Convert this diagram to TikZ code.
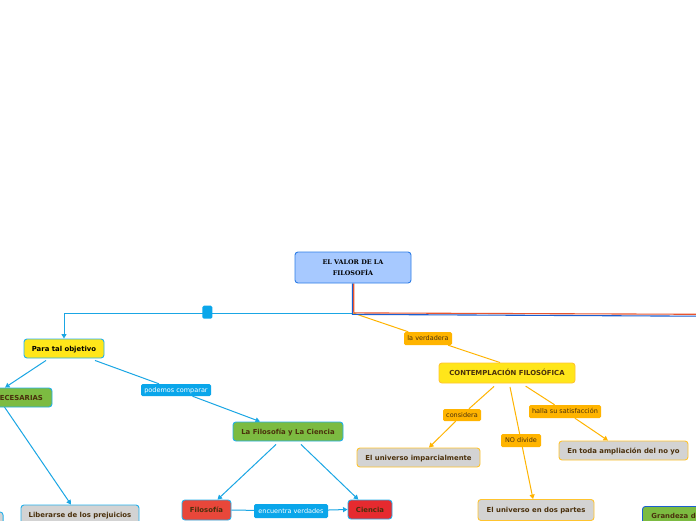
\documentclass[tikz,border=0pt]{standalone}
\usepackage{fontspec}
\setmainfont{DejaVu Sans}
\newfontfamily\rootfont{DejaVu Serif}
\usetikzlibrary{arrows.meta,calc,backgrounds}
\definecolor{linecyan}{HTML}{1AA6E4}
\definecolor{bordcyan}{HTML}{22B0EC}
\definecolor{labcyan}{HTML}{0AA6EA}
\definecolor{lineor}{HTML}{FFB400}
\definecolor{bordor}{HTML}{FFC42E}
\definecolor{labor}{HTML}{FFB400}
\definecolor{txtbrown}{HTML}{4A300C}
\definecolor{fillyel}{HTML}{FFE61A}
\definecolor{fillgreen}{HTML}{7CBB41}
\definecolor{fillgray}{HTML}{D3D3D3}
\definecolor{fillred}{HTML}{E8473A}
\definecolor{fillred2}{HTML}{E62A2F}
\definecolor{rootfill}{HTML}{A7C9FF}
\definecolor{rootbord}{HTML}{2E7DE6}
\definecolor{linered}{HTML}{E8552F}
\definecolor{lineblue}{HTML}{1A5FD0}
\begin{document}
\begin{tikzpicture}[x=1pt,y=-1pt,
  box/.style={draw, rounded corners=3pt, line width=0.9pt, inner sep=0pt,
    font=\fontsize{6.9}{8}\selectfont\bfseries, text=txtbrown,
    text height=5pt, text depth=0pt},
  cbox/.style={box, draw=bordcyan},
  obox/.style={box, draw=bordor},
  lab/.style={rounded corners=1.5pt, inner sep=0pt, font=\fontsize{6.5}{7}\selectfont,
    text height=4.7pt, text depth=0pt},
  cyanlab/.style={lab, fill=labcyan, text=white},
  orlab/.style={lab, fill=labor, text=txtbrown},
  cl/.style={draw=linecyan, line width=1pt},
  ol/.style={draw=lineor, line width=1pt},
  arr/.style={-{Triangle[length=4.5pt,width=5pt]}}
]
\useasboundingbox (0,0) rectangle (696,520);

% root
\node[draw=rootbord, fill=rootfill, rounded corners=3pt, line width=0.9pt,
  minimum width=116pt, minimum height=31pt, inner sep=0pt, align=center,
  font=\rootfont\fontsize{6.4}{10.5}\selectfont\bfseries] (root) at (353,267.5)
  {EL VALOR DE LA\\FILOSOFÍA};

% cyan branch
\node[cbox, fill=fillyel, text=black, minimum width=80pt, minimum height=19pt] (para) at (64,348.5) {Para tal objetivo};
\node[cbox, fill=fillgreen, minimum width=67pt, minimum height=19pt] (nec) at (18.5,397.5) {NECESARIAS};
\node[cyanlab, minimum width=70pt, minimum height=12pt] (podemos) at (176,390) {podemos comparar};
\node[cbox, fill=fillgreen, minimum width=110pt, minimum height=19pt] (lafc) at (288,431.5) {La Filosofía y La Ciencia};
\node[cbox, fill=fillred, minimum width=49pt, minimum height=20pt] (filo) at (206.5,510) {Filosofía};
\node[cbox, fill=fillred2, minimum width=44pt, minimum height=19pt] (ciencia) at (370,509.5) {Ciencia};
\node[cyanlab, minimum width=74pt, minimum height=14pt] (encuentra) at (291,511) {encuentra verdades};
\node[cbox, fill=fillgray, minimum width=118pt, minimum height=19pt] (lib) at (80,514.5) {Liberarse de los prejuicios};
\node[cbox, fill=fillgray, minimum width=40pt, minimum height=19pt, anchor=north east] (hidden) at (3.5,511.5) {};
\node[fill=labcyan, rounded corners=1.5pt, minimum width=10pt, minimum height=13pt, inner sep=0pt] (sq) at (207.3,312.2) {};

% orange branch
\node[orlab, minimum width=48pt, minimum height=13pt] (verd) at (428,338.5) {la verdadera};
\node[obox, fill=fillyel, minimum width=136pt, minimum height=20pt] (cont) at (507,373) {CONTEMPLACIÓN FILOSÓFICA};
\node[orlab, minimum width=38pt, minimum height=12pt] (cons) at (462,415) {considera};
\node[orlab, minimum width=72pt, minimum height=13pt] (halla) at (565,411.5) {halla su satisfacción};
\node[orlab, minimum width=40pt, minimum height=13pt] (nodiv) at (521,440.5) {NO divide};
\node[obox, fill=fillgray, minimum width=123pt, minimum height=19pt] (imp) at (418.5,457.5) {El universo imparcialmente};
\node[obox, fill=fillgray, minimum width=129pt, minimum height=19pt] (ampl) at (623.5,450.5) {En toda ampliación del no yo};
\node[obox, fill=fillgray, minimum width=116pt, minimum height=21pt] (dos) at (536,510) {El universo en dos partes};

% blue branch (cut)
\node[box, draw=lineblue, fill=fillgreen, anchor=north west, minimum height=19pt,
  inner xsep=9pt] (grand) at (642,506) {Grandeza de};

\coordinate (junc) at (353,313);
\coordinate (rj) at (353.8,312.9);
\coordinate (bj) at (352.4,314.4);
\coordinate (rend) at (700,314.3);
\coordinate (bend) at (700,316.2);

\begin{pgfonlayer}{background}
\fill[white] (0,0) rectangle (696,520);
% cyan connectors
\draw[cl, arr] (junc) -- (para.north |- junc) -- (para.north);
\draw[cl, arr] ($(para.south)+(-18,2)$) -- ($(nec.north)+(-13.5,0)$);
\draw[cl, arr] ($(para.south)+(31,2)$) -- (podemos) -- ($(lafc.north)+(-28,0)$);
\draw[cl, arr] ($(nec.center)+(-20.5,0)$) -- ($(lib.north)+(-9,0)$);
\draw[cl, arr] ($(lafc.south)+(-12,3)$) -- ($(filo.north)+(11,0)$);
\draw[cl, arr] ($(lafc.south)+(13,3)$) -- ($(ciencia.north)+(-11.7,0)$);
\draw[cl, arr] (filo.east) -- (encuentra) -- (ciencia.west);
% orange connectors
\draw[ol] (junc) -- (verd) -- ($(cont.north)+(-7,0)$);
\draw[ol, arr] ($(cont.south)+(-13,3)$) -- (cons) -- ($(imp.north)+(10.5,0)$);
\draw[ol, arr] ($(cont.south)+(3,3.5)$) -- (nodiv) -- ($(dos.north)+(-3,0)$);
\draw[ol, arr] ($(cont.south)+(18.7,2.7)$) -- (halla) -- ($(ampl.north)+(-15.5,0)$);
% red and blue connectors leaving the page
\draw[draw=linered, line width=1.1pt] ($(root.south)+(0.7,0)$) -- (rj) -- (rend);
\draw[draw=lineblue, line width=1.1pt] ($(root.south)+(-0.7,0)$) -- (bj) -- (bend);
\end{pgfonlayer}
\end{tikzpicture}
\end{document}
